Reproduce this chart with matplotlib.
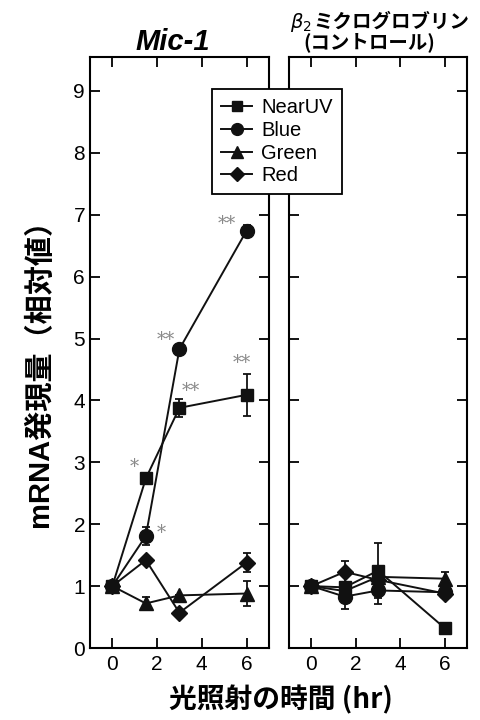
import matplotlib
matplotlib.use("Agg")
import matplotlib.pyplot as plt
from matplotlib.lines import Line2D

plt.rcParams["font.family"] = ["Liberation Sans", "Noto Sans CJK JP", "DejaVu Sans"]

hours = [0, 1.5, 3, 6]
series = ["NearUV", "Blue", "Green", "Red"]
markers = {"NearUV": "s", "Blue": "o", "Green": "^", "Red": "D"}
msizes = {"NearUV": 9, "Blue": 10, "Green": 10, "Red": 8}

# Mic-1 panel
mic_vals = {
    "NearUV": [1.0, 2.74, 3.88, 4.09],
    "Blue": [1.0, 1.81, 4.83, 6.74],
    "Green": [1.0, 0.72, 0.85, 0.88],
    "Red": [1.0, 1.42, 0.57, 1.38],
}
mic_err = {
    "NearUV": [0, 0, 0.15, 0.34],
    "Blue": [0, 0.15, 0, 0.1],
    "Green": [0, 0.1, 0, 0.2],
    "Red": [0, 0, 0, 0.15],
}
# beta2 microglobulin panel
ctl_vals = {
    "NearUV": [1.0, 0.98, 1.25, 0.32],
    "Blue": [1.0, 0.83, 0.93, 0.9],
    "Green": [1.0, 0.92, 1.15, 1.12],
    "Red": [1.0, 1.23, 1.1, 0.88],
}
ctl_err = {
    "NearUV": [0, 0, 0.45, 0],
    "Blue": [0, 0.2, 0.22, 0],
    "Green": [0, 0, 0, 0.11],
    "Red": [0, 0.17, 0, 0],
}
# significance marks (label, x, y)
stars = [("**", 5.1, 6.85), ("**", 2.4, 4.97), ("**", 3.5, 4.15),
         ("**", 5.8, 4.6), ("*", 1.0, 2.92), ("*", 2.2, 1.85)]

fig = plt.figure(figsize=(4.81, 7.2), dpi=100)
ax1 = fig.add_axes([0.187, 0.1, 0.372, 0.821])
ax2 = fig.add_axes([0.601, 0.1, 0.370, 0.821])

for ax, vals, errs in [(ax1, mic_vals, mic_err), (ax2, ctl_vals, ctl_err)]:
    for s in series:
        ax.errorbar(hours, vals[s], yerr=errs[s], color="#111111",
                    marker=markers[s], markersize=msizes[s], lw=1.4,
                    elinewidth=1.3, capsize=3, capthick=1.3)
    ax.set_xlim(-1, 7)
    ax.set_ylim(0, 9.55)
    ax.set_xticks([0, 2, 4, 6])
    ax.set_yticks(range(10))
    ax.tick_params(direction="in", top=True, right=True, length=7, width=1.3,
                   labelsize=15)
    ax.tick_params(axis="x", pad=5)
    for sp in ax.spines.values():
        sp.set_linewidth(1.5)

ax2.tick_params(labelleft=False)

for txt, x, y in stars:
    ax1.text(x, y, txt, color="#8a8a8a", fontsize=13, ha="center", va="center",
             family="DejaVu Serif")

fig.text(0.36, 0.942, "Mic-1", ha="center", va="center", fontsize=21,
         fontweight="bold", style="italic")
fig.text(0.651, 0.969, "ミクログロブリン", ha="left", va="center",
         fontsize=14, fontweight="bold", family=["Noto Sans CJK JP"])
fig.text(0.649, 0.969, r"$\beta_2$", ha="right", va="center", fontsize=14)
fig.text(0.768, 0.941, "(コントロール)", ha="center", va="center",
         fontsize=14, fontweight="bold", family=["Noto Sans CJK JP"])

fig.text(0.083, 0.492, "mRNA発現量（相対値）", rotation=90, ha="center",
         va="center", fontsize=21, fontweight="bold",
         family=["Liberation Sans", "Noto Sans CJK JP"])
fig.text(0.584, 0.028, "光照射の時間 (hr)", ha="center", va="center",
         fontsize=20, fontweight="bold",
         family=["Noto Sans CJK JP"])

handles = [Line2D([], [], color="#111111", lw=1.4, marker=markers[s],
                  markersize=msizes[s] * 0.85) for s in series]
leg = fig.legend(handles=handles, labels=series, loc="upper left",
                 bbox_to_anchor=(0.441, 0.876), fontsize=14.5, frameon=True,
                 fancybox=False, edgecolor="black", handlelength=1.55,
                 borderpad=0.45, labelspacing=0.18, handletextpad=0.45,
                 borderaxespad=0)
leg.get_frame().set_linewidth(1.3)
leg.get_frame().set_alpha(1)

fig.savefig("out.png", dpi=100)
